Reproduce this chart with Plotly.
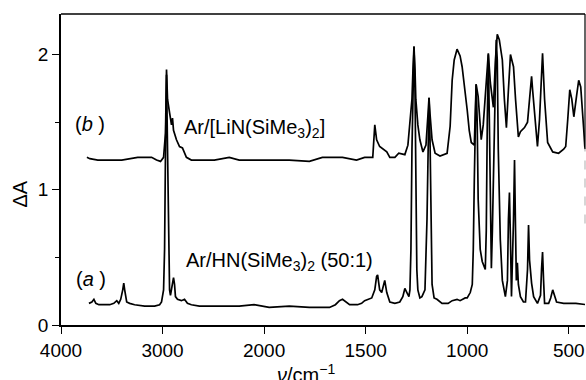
import plotly.graph_objects as go

# ---- data: wavenumber (cm-1) and absorbance change ----
# (a) Ar / HN(SiMe3)2 (50:1)
wn_a = [3725, 3696, 3676, 3657, 3627, 3569, 3520, 3480, 3451, 3431, 3412, 3392, 3382, 3373, 3353,
        3324, 3275, 3176, 3078, 3029, 3010, 2990, 2980, 2971, 2961, 2951, 2941, 2931, 2922, 2912,
        2902, 2892, 2882, 2873, 2853, 2814, 2784, 2755, 2716, 2637, 2441, 2245, 2098, 2029, 1975,
        1876, 1777, 1703, 1678, 1649, 1629, 1614, 1599, 1579, 1540, 1520, 1505, 1490, 1470, 1455,
        1446, 1441, 1431, 1421, 1411, 1406, 1396, 1381, 1356, 1332, 1317, 1307, 1297, 1287, 1282,
        1277, 1272, 1267, 1262, 1257, 1253, 1248, 1243, 1233, 1223, 1208, 1198, 1193, 1188, 1183,
        1178, 1173, 1163, 1149, 1124, 1094, 1074, 1050, 1035, 1025, 1010, 1000, 985, 975, 970,
        965, 960, 956, 951, 946, 936, 926, 911, 906, 901, 896, 891, 886, 881, 876,
        866, 857, 852, 847, 837, 827, 812, 802, 797, 792, 787, 782, 772, 767, 762,
        758, 753, 748, 738, 723, 713, 708, 703, 698, 693, 683, 673, 654, 639, 634,
        629, 624, 619, 599, 589, 579, 569, 560, 525, 465, 411]
abs_a = [0.16, 0.17, 0.19, 0.16, 0.15, 0.15, 0.15, 0.16, 0.18, 0.16, 0.19, 0.26, 0.31, 0.26, 0.17,
         0.16, 0.15, 0.14, 0.14, 0.15, 0.17, 0.26, 0.56, 1.30, 1.85, 1.30, 0.48, 0.26, 0.22, 0.26,
         0.32, 0.35, 0.30, 0.21, 0.19, 0.18, 0.19, 0.16, 0.15, 0.14, 0.14, 0.14, 0.15, 0.14, 0.13,
         0.14, 0.13, 0.13, 0.13, 0.15, 0.18, 0.19, 0.17, 0.15, 0.15, 0.16, 0.18, 0.19, 0.20, 0.26,
         0.36, 0.37, 0.26, 0.24, 0.32, 0.33, 0.24, 0.17, 0.16, 0.17, 0.21, 0.27, 0.24, 0.21, 0.26,
         0.56, 1.30, 1.81, 2.06, 1.74, 0.93, 0.41, 0.26, 0.20, 0.21, 0.26, 0.78, 1.37, 1.68, 1.37,
         0.70, 0.30, 0.20, 0.19, 0.16, 0.16, 0.18, 0.19, 0.18, 0.19, 0.20, 0.20, 0.24, 0.30, 0.56,
         1.07, 1.59, 1.78, 1.52, 0.93, 0.56, 0.47, 0.41, 0.70, 1.52, 2.00, 1.52, 0.70, 0.42, 0.70,
         1.59, 2.11, 1.96, 1.30, 0.63, 0.33, 0.21, 0.33, 0.78, 0.98, 0.63, 0.21, 0.78, 1.22, 0.70,
         0.33, 0.46, 0.30, 0.21, 0.17, 0.17, 0.26, 0.41, 0.74, 0.48, 0.31, 0.21, 0.16, 0.22, 0.41,
         0.54, 0.33, 0.16, 0.16, 0.20, 0.26, 0.21, 0.17, 0.16, 0.16, 0.15]

# (b) Ar / [LiN(SiMe3)2]
wn_b = [3745, 3716, 3637, 3402, 3245, 3108, 3059, 3020, 2990, 2971, 2961, 2951, 2931, 2912, 2902,
        2892, 2863, 2833, 2804, 2765, 2716, 2490, 2343, 2245, 2029, 1876, 1777, 1713, 1614, 1545,
        1505, 1465, 1455, 1446, 1431, 1396, 1381, 1356, 1337, 1307, 1292, 1282, 1272, 1267, 1262,
        1257, 1253, 1243, 1233, 1218, 1203, 1193, 1188, 1183, 1173, 1158, 1134, 1099, 1084, 1074,
        1064, 1050, 1035, 1025, 1010, 1000, 990, 980, 965, 960, 956, 946, 936, 931, 921,
        911, 896, 886, 876, 871, 861, 852, 842, 832, 827, 817, 807, 797, 787, 777,
        772, 762, 748, 738, 718, 703, 693, 683, 678, 668, 654, 644, 634, 629, 619,
        604, 579, 550, 525, 515, 505, 495, 485, 475, 461, 451, 441, 436, 426, 421, 416]
abs_b = [1.24, 1.23, 1.22, 1.22, 1.24, 1.24, 1.22, 1.21, 1.24, 1.42, 1.89, 1.67, 1.57, 1.48, 1.53,
         1.44, 1.37, 1.32, 1.31, 1.24, 1.22, 1.22, 1.24, 1.22, 1.22, 1.22, 1.21, 1.24, 1.24, 1.22,
         1.24, 1.24, 1.48, 1.37, 1.32, 1.28, 1.24, 1.24, 1.27, 1.26, 1.33, 1.53, 1.67, 1.89, 2.06,
         1.89, 1.67, 1.48, 1.37, 1.28, 1.33, 1.56, 1.68, 1.56, 1.37, 1.27, 1.25, 1.27, 1.47, 1.81,
         1.96, 2.04, 1.99, 1.91, 1.74, 1.59, 1.44, 1.35, 1.33, 1.59, 1.78, 1.69, 1.44, 1.37, 1.48,
         1.67, 2.01, 1.79, 1.67, 1.61, 1.96, 2.15, 2.11, 2.01, 1.96, 1.67, 1.46, 1.74, 2.00, 1.94,
         1.91, 1.67, 1.39, 1.43, 1.46, 1.50, 1.67, 1.84, 1.74, 1.54, 1.32, 1.52, 1.89, 2.01, 1.67,
         1.35, 1.28, 1.27, 1.30, 1.32, 1.52, 1.74, 1.67, 1.54, 1.70, 1.81, 1.76, 1.67, 1.44, 1.32, 1.30]

tick_wn = [4000, 3000, 2000, 1500, 1000, 500]
tick_labels = ["4000", "3000", "2000", "1500", "1000", "500"]


def to_axis(v):
    # split-scale IR axis: 1000 cm-1 per unit above 2000, 500 cm-1 per unit below
    return (4000 - v) / 1000 if v >= 2000 else 2 + (2000 - v) / 500


xa = [to_axis(v) for v in wn_a]
xb = [to_axis(v) for v in wn_b]

FONT = "Liberation Sans, Arial, sans-serif"
fig = go.Figure()
line = dict(color="black", width=1.7)
fig.add_trace(go.Scatter(x=xb, y=abs_b, mode="lines", line=line, showlegend=False))
fig.add_trace(go.Scatter(x=xa, y=abs_a, mode="lines", line=line, showlegend=False))

XMAX = 5.16
YMAX = 2.30
fig.update_layout(
    template="none",
    width=586, height=380,
    margin=dict(l=61, r=1, t=14, b=55, pad=0),
    paper_bgcolor="white", plot_bgcolor="white",
    font=dict(family=FONT, size=19, color="black"),
    xaxis=dict(range=[0, XMAX], tickvals=[to_axis(v) for v in tick_wn], ticktext=tick_labels,
               ticks="outside", ticklen=7, tickwidth=1.4, tickcolor="black",
               showgrid=False, zeroline=False, automargin=False,
               showline=True, linecolor="black", linewidth=1.6, mirror=False,
               tickfont=dict(size=19)),
    yaxis=dict(range=[0, YMAX], tickvals=[0, 1, 2], ticktext=["0", "1", "2"],
               ticks="outside", ticklen=7, tickwidth=1.4, tickcolor="black",
               showgrid=False, zeroline=False, automargin=False,
               showline=True, linecolor="black", linewidth=1.6,
               minor=dict(tickvals=[0.5, 1.5], ticks="outside", ticklen=4, tickwidth=1.2,
                          tickcolor="black", showgrid=False),
               tickfont=dict(size=19)),
)

# top border, right border (partly faded in the scan)
fig.add_shape(type="line", xref="paper", yref="paper", x0=0, x1=1, y0=1, y1=1,
              line=dict(color="black", width=1.5))
fig.add_shape(type="line", xref="paper", yref="y", x0=1, x1=1, y0=1.30, y1=YMAX,
              line=dict(color="black", width=1.2))
fig.add_shape(type="line", xref="paper", yref="y", x0=1, x1=1, y0=0.75, y1=1.30,
              line=dict(color="#bbbbbb", width=1.2, dash="dash"))

ann = dict(showarrow=False, font=dict(family=FONT, size=20, color="black"))
fig.add_annotation(x=0.29, y=1.49, text="(<i>b</i> )", xanchor="center", yanchor="middle", **ann)
fig.add_annotation(x=0.30, y=0.34, text="(<i>a</i> )", xanchor="center", yanchor="middle", **ann)
fig.add_annotation(x=1.19, y=1.45, text="Ar/[LiN(SiMe<sub>3</sub>)<sub>2</sub>]",
                   xanchor="left", yanchor="middle", **ann)
fig.add_annotation(x=1.21, y=0.47, text="Ar/HN(SiMe<sub>3</sub>)<sub>2</sub> (50:1)",
                   xanchor="left", yanchor="middle", **ann)
fig.add_annotation(xref="paper", yref="paper", x=-0.078, y=0.42, text="ΔA", textangle=-90,
                   xanchor="center", yanchor="middle", **ann)
fig.add_annotation(xref="paper", yref="paper", x=0.468, y=-0.155,
                   text="<i>ν</i>/cm<sup>−1</sup>", xanchor="center", yanchor="middle", **ann)

fig.write_html("out.html", config={"displayModeBar": False},
               post_script="document.body.style.margin='0';document.body.style.overflow='hidden';")
